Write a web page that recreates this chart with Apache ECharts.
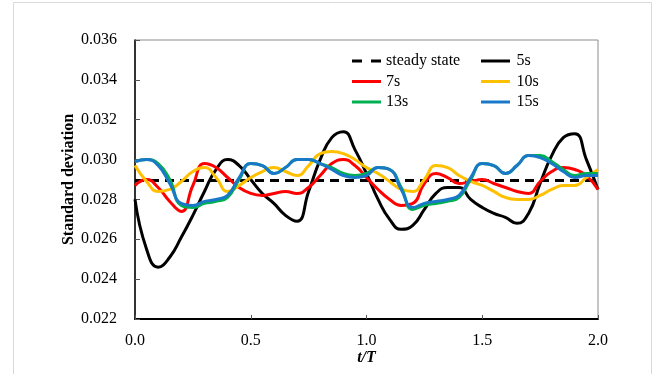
<!DOCTYPE html>
<html>
<head>
<meta charset="utf-8">
<script src="https://cdn.jsdelivr.net/npm/echarts@6/dist/echarts.min.js"></script>
<style>
  html, body { margin: 0; padding: 0; background: #fff; }
  #chart { width: 656px; height: 374px; }
</style>
</head>
<body>
<div id="chart"></div>
<script>
// Time axis (t/T), sampled every 0.05
const tValues = [0.00,0.05,0.10,0.15,0.20,0.25,0.30,0.35,0.40,0.45,0.50,0.55,0.60,0.65,0.70,0.75,0.80,0.85,0.90,0.95,
  1.00,1.05,1.10,1.15,1.20,1.25,1.30,1.35,1.40,1.45,1.50,1.55,1.60,1.65,1.70,1.75,1.80,1.85,1.90,1.95,2.00];

const steadyValue = 0.02895;

const s5 = [0.0280,0.0255,0.0246,0.0251,0.0261,0.0272,0.0284,0.0295,0.0300,0.0297,0.0290,0.0283,0.0278,0.0272,0.0269,0.0284,0.0300,0.0311,0.0314,0.0305,
  0.0293,0.0280,0.0270,0.0265,0.0267,0.0275,0.0283,0.0286,0.0286,0.0280,0.0276,0.0273,0.0271,0.0268,0.0273,0.0288,0.0302,0.0311,0.0313,0.0300,0.0285];
const s7 = [0.0287,0.0290,0.0286,0.0279,0.0274,0.0287,0.0298,0.0296,0.0291,0.0286,0.0283,0.0282,0.0283,0.0284,0.0283,0.0286,0.0292,0.0298,0.0300,0.0297,
  0.0291,0.0285,0.0280,0.0277,0.0278,0.0288,0.0293,0.0291,0.0288,0.0289,0.0290,0.0288,0.0286,0.0284,0.0283,0.0289,0.0294,0.0296,0.0295,0.0292,0.0285];
const s10 = [0.0297,0.0289,0.0284,0.0285,0.0289,0.0294,0.0296,0.0291,0.0284,0.0287,0.0291,0.0294,0.0296,0.0294,0.0292,0.0297,0.0303,0.0304,0.0303,0.0300,
  0.0296,0.0293,0.0289,0.0285,0.0284,0.0290,0.0297,0.0296,0.0292,0.0289,0.0287,0.0284,0.0281,0.0280,0.0280,0.0282,0.0285,0.0287,0.0287,0.0291,0.0295];
const s13 = [0.0299,0.0300,0.0298,0.0290,0.0277,0.0276,0.0278,0.0279,0.0281,0.0290,0.0298,0.0297,0.0293,0.0296,0.0300,0.0300,0.0298,0.0296,0.0293,0.0292,
  0.0293,0.0296,0.0295,0.0286,0.0275,0.0277,0.0278,0.0279,0.0281,0.0290,0.0298,0.0297,0.0293,0.0297,0.0302,0.0302,0.0299,0.0295,0.0292,0.0293,0.0293];
const s15 = [0.0299,0.0300,0.0297,0.0288,0.0278,0.0277,0.0279,0.0280,0.0282,0.0291,0.0298,0.0297,0.0293,0.0296,0.0300,0.0300,0.0298,0.0295,0.0292,0.0291,
  0.0292,0.0296,0.0295,0.0285,0.0276,0.0278,0.0279,0.0280,0.0282,0.0291,0.0298,0.0297,0.0293,0.0297,0.0302,0.0301,0.0298,0.0294,0.0291,0.0292,0.0292];

const yTicks = [0.022, 0.024, 0.026, 0.028, 0.030, 0.032, 0.034, 0.036];
const xTicks = [0.0, 0.5, 1.0, 1.5, 2.0];

const FONT = 'Liberation Serif';

// legend keys: plain bar for solid lines, two short bars for the dashed one
const SOLID_KEY = 'path://M0,0H29V3H0Z';
const DASH_KEY = 'path://M0,0H10V3H0Z M19,0H29V3H19Z';

const pairs = arr => tValues.map((t, i) => [t, arr[i]]);

function curve(name, data, color) {
  return {
    name, type: 'line', data: pairs(data), smooth: 0.5,
    showSymbol: false, symbol: 'none',
    lineStyle: { color, width: 3 }, itemStyle: { color },
    emphasis: { disabled: true }, z: 3
  };
}

function legendItem(name, icon) {
  return { name, icon, textStyle: { fontFamily: FONT, fontSize: 16, color: '#000' } };
}

const chart = echarts.init(document.getElementById('chart'), null, { renderer: 'canvas' });
chart.setOption({
  animation: false,
  backgroundColor: '#fff',
  textStyle: { fontFamily: FONT },
  graphic: [{
    type: 'rect', silent: true, z: -10,
    shape: { x: 13.5, y: 2.5, width: 638, height: 380 },
    style: { fill: 'none', stroke: '#d9d9d9', lineWidth: 1 }
  }],
  grid: {
    left: 135, right: 58, top: 40, bottom: 55,
    show: true, borderColor: '#8c8c8c', borderWidth: 1, backgroundColor: 'transparent'
  },
  legend: [{
    data: [
      legendItem('steady state', DASH_KEY),
      legendItem('7s', SOLID_KEY),
      legendItem('13s', SOLID_KEY)
    ],
    orient: 'vertical', left: 347, top: 48,
    itemWidth: 29, itemHeight: 3, itemGap: 4.5,
    textStyle: { fontFamily: FONT, fontSize: 16, color: '#000' }, selectedMode: false
  }, {
    data: [
      legendItem('5s', SOLID_KEY),
      legendItem('10s', SOLID_KEY),
      legendItem('15s', SOLID_KEY)
    ],
    orient: 'vertical', left: 476, top: 48,
    itemWidth: 32, itemHeight: 3, itemGap: 4.5,
    textStyle: { fontFamily: FONT, fontSize: 16, color: '#000' }, selectedMode: false
  }],
  xAxis: {
    type: 'value', min: 0, max: 2, interval: 0.5,
    name: 't/T', nameLocation: 'middle', nameGap: 31, nameMoveOverlap: false,
    nameTextStyle: { fontFamily: FONT, fontSize: 16, fontWeight: 'bold', fontStyle: 'italic', color: '#000' },
    axisLine: { show: true, onZero: false, lineStyle: { color: '#000', width: 2 } },
    axisTick: { show: true, inside: true, length: 4, lineStyle: { color: '#555', width: 1 } },
    axisLabel: {
      fontFamily: FONT, fontSize: 16, color: '#000', margin: 14,
      formatter: v => xTicks.includes(v) ? v.toFixed(1) : ''
    },
    splitLine: { show: false }
  },
  yAxis: {
    type: 'value', min: 0.022, max: 0.036, interval: 0.002,
    name: 'Standard deviation', nameLocation: 'middle', nameGap: 58, nameMoveOverlap: false,
    nameTextStyle: { fontFamily: FONT, fontSize: 16, fontWeight: 'bold', color: '#000' },
    axisLine: { show: true, lineStyle: { color: '#000', width: 1.5 } },
    axisTick: { show: true, inside: true, length: 5, lineStyle: { color: '#555', width: 1 } },
    axisLabel: {
      fontFamily: FONT, fontSize: 16, color: '#000', margin: 18,
      formatter: v => {
        const hit = yTicks.find(t => Math.abs(t - v) < 1e-9);
        return hit !== undefined ? hit.toFixed(3) : '';
      }
    },
    splitLine: { show: false }
  },
  series: [
    {
      name: 'steady state', type: 'line',
      data: tValues.map(t => [t, steadyValue]),
      showSymbol: false, symbol: 'none',
      lineStyle: { color: '#000', width: 3, type: [9, 6] }, itemStyle: { color: '#000' },
      emphasis: { disabled: true }, z: 2
    },
    curve('5s', s5, '#000000'),
    curve('7s', s7, '#ff0000'),
    curve('10s', s10, '#ffc000'),
    curve('13s', s13, '#00b050'),
    curve('15s', s15, '#1a78c8')
  ]
});
</script>
</body>
</html>
